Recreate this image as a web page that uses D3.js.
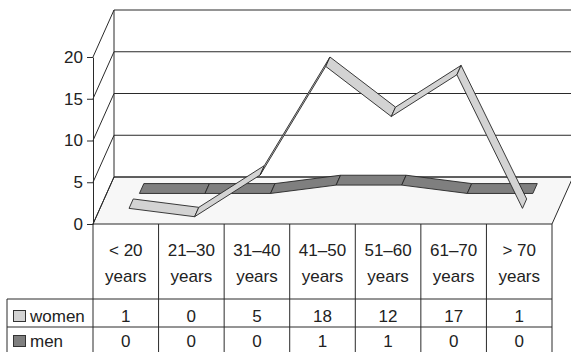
<!DOCTYPE html>
<html>
<head>
<meta charset="utf-8">
<script src="https://cdn.jsdelivr.net/npm/d3@7"></script>
<style>
  html, body { margin: 0; padding: 0; background: #fff; }
  svg { display: block; font-family: "Liberation Sans", Arial, sans-serif; }
</style>
</head>
<body>
<svg id="chart" width="571" height="352"></svg>
<script>
// Age groups (two-line labels) and counts per series
const categories = ["< 20|years", "21–30|years", "31–40|years", "41–50|years", "51–60|years", "61–70|years", "> 70|years"];
const women = [1, 0, 5, 18, 12, 17, 1];
const men = [0, 0, 0, 1, 1, 0, 0];
const yTicks = [0, 5, 10, 15, 20];
const seriesNames = ["women", "men"];

const svg = d3.select("#chart");
const ink = "#2a2a2a";

// Front plane scales
const x = d3.scaleBand().domain(categories).range([93, 552]).paddingInner(0).paddingOuter(0);
const y = d3.scaleLinear().domain([0, 20]).range([224, 57]);

// Oblique depth projection: z = 0 front, z = 1 back wall
const depth = { dx: 21, dy: -47 };
const P = (px, py, z) => [px + z * depth.dx, py + z * depth.dy];

const x0 = x.range()[0], x1 = x.range()[1];

// Floor
const floor = [P(x0, y(0), 0), P(x1, y(0), 0), P(x1, y(0), 1), P(x0, y(0), 1)];
svg.append("polygon")
  .attr("points", floor.map(p => p.join(",")).join(" "))
  .attr("fill", "#f7f7f7").attr("stroke", ink).attr("stroke-width", 1);

// Back wall gridlines and left wall diagonals
yTicks.forEach(t => {
  const a = P(x0, y(t), 1), b = P(x1 + 40, y(t), 1);
  svg.append("line").attr("x1", a[0]).attr("y1", a[1]).attr("x2", b[0]).attr("y2", b[1])
    .attr("stroke", ink).attr("stroke-width", 1);
  const f = P(x0, y(t), 0);
  svg.append("line").attr("x1", f[0]).attr("y1", f[1]).attr("x2", a[0]).attr("y2", a[1])
    .attr("stroke", ink).attr("stroke-width", 1);
});
// Back-left edge of the walls
{
  const top = P(x0, y(20), 1), bottom = P(x0, y(0), 1);
  svg.append("line").attr("x1", top[0]).attr("y1", top[1]).attr("x2", bottom[0]).attr("y2", bottom[1])
    .attr("stroke", ink).attr("stroke-width", 1);
}

// Front value axis
const axis = svg.append("g").attr("transform", `translate(${x0},0)`)
  .call(d3.axisLeft(y).tickValues(yTicks).tickSize(6).tickSizeOuter(0).tickPadding(4));
axis.select(".domain").attr("stroke", ink);
axis.selectAll(".tick line").attr("stroke", ink);
axis.selectAll(".tick text").attr("fill", "#222").style("font-size", "17px")
  .style("font-family", '"Liberation Sans", Arial, sans-serif');

// 3D ribbons: each series occupies its own depth slot
function ribbon(values, z1, z2, fill) {
  const g = svg.append("g");
  for (let i = 0; i < values.length - 1; i++) {
    const xa = x(categories[i]) + x.bandwidth() / 2;
    const xb = x(categories[i + 1]) + x.bandwidth() / 2;
    const pts = [P(xa, y(values[i]), z1), P(xb, y(values[i + 1]), z1),
                 P(xb, y(values[i + 1]), z2), P(xa, y(values[i]), z2)];
    g.append("polygon").attr("points", pts.map(p => p.join(",")).join(" "))
      .attr("fill", fill).attr("stroke", "#262626").attr("stroke-width", 0.9)
      .attr("stroke-linejoin", "round");
  }
}
ribbon(men, 0.65, 0.86, "#7f7f7f");
ribbon(women, 0.155, 0.355, "#d3d3d3");

// Data table
const tTop = y(0), tRow1 = 299, tRow2 = 327, tBottom = 360, legendLeft = 7;
const tbl = svg.append("g").attr("stroke", ink).attr("stroke-width", 1);
categories.forEach((c, i) => {
  const xr = x(c) + x.bandwidth();
  tbl.append("line").attr("x1", xr).attr("y1", tTop).attr("x2", xr).attr("y2", tBottom);
});
tbl.append("line").attr("x1", x0).attr("y1", tTop).attr("x2", x0).attr("y2", tBottom);
tbl.append("line").attr("x1", legendLeft).attr("y1", tRow1).attr("x2", legendLeft).attr("y2", tBottom);
[tRow1, tRow2].forEach(ry => {
  tbl.append("line").attr("x1", legendLeft).attr("y1", ry).attr("x2", x1).attr("y2", ry);
});

const txt = svg.append("g").attr("fill", "#222").style("font-size", "17px").attr("text-anchor", "middle");
categories.forEach(c => {
  const cx = x(c) + x.bandwidth() / 2;
  const [l1, l2] = c.split("|");
  txt.append("text").attr("x", cx).attr("y", 256).text(l1);
  txt.append("text").attr("x", cx).attr("y", 282).text(l2);
});
[women, men].forEach((vals, s) => {
  const by = s === 0 ? 322 : 347;
  vals.forEach((v, i) => {
    txt.append("text").attr("x", x(categories[i]) + x.bandwidth() / 2).attr("y", by).text(v);
  });
});

// Legend keys inside the table
const keyFill = ["#d3d3d3", "#7f7f7f"];
seriesNames.forEach((name, s) => {
  const by = s === 0 ? 322 : 347;
  svg.append("rect").attr("x", 13.5).attr("y", by - 11.5).attr("width", 12).attr("height", 11)
    .attr("fill", keyFill[s]).attr("stroke", "#333").attr("stroke-width", 1);
  svg.append("text").attr("x", 30).attr("y", by).attr("fill", "#222")
    .style("font-size", "17px").text(name);
});
</script>
</body>
</html>
